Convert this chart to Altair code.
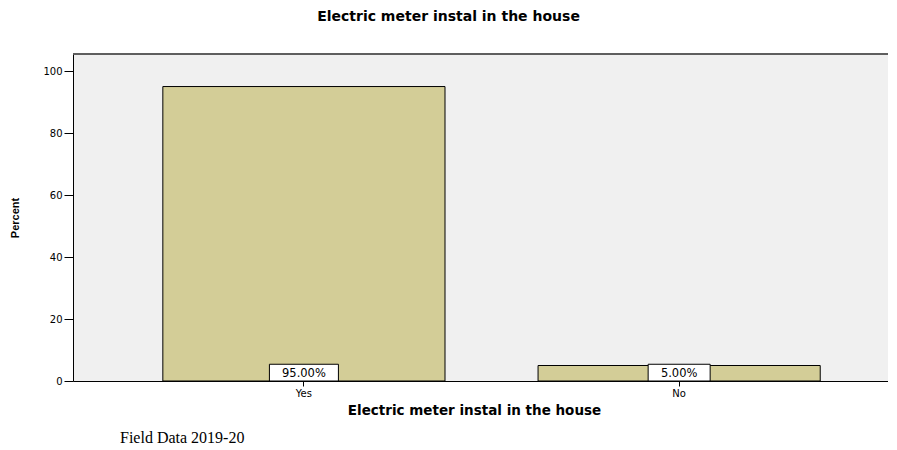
import altair as alt
import pandas as pd

categories = ["Yes", "No"]
percents = [95.0, 5.0]
labels = ["95.00%", "5.00%"]
y_ticks = [0, 20, 40, 60, 80, 100]
footer_text = "Field Data 2019-20"
chart_title = "Electric meter instal in the house"
x_title = "Electric meter instal in the house"
y_title = "Percent"

df = pd.DataFrame({"cat": categories, "pct": percents, "label": labels})
df["boxw"] = df["label"].str.len() * 7 + 27

YMAX = 105.5
xscale = alt.Scale(domain=categories, paddingInner=0.248, paddingOuter=0.21, align=0.57)
yscale = alt.Scale(domain=[0, YMAX], nice=False, zero=True)

base = alt.Chart(df)

bars = base.mark_bar(color="#D3CD97", stroke="#000000", strokeWidth=1).encode(
    x=alt.X("cat:N", scale=xscale, sort=categories,
            axis=alt.Axis(title=x_title, labelAngle=0, labelFontSize=10, labelFont="DejaVu Sans",
                          labelColor="#000", tickSize=5, tickColor="#000", domainColor="#000",
                          labelPadding=2, titleFont="DejaVu Sans", titleFontSize=13.5,
                          titleFontWeight="bold", titleColor="#000", titlePadding=5,
                          titleX=401, titleAlign="center", titleAnchor="start")),
    y=alt.Y("pct:Q", scale=yscale,
            axis=alt.Axis(title=y_title, values=y_ticks, grid=False, labelFontSize=10,
                          labelFont="DejaVu Sans", labelColor="#000", tickSize=9,
                          tickColor="#000", domainColor="#000", labelPadding=2,
                          titleFont="Liberation Sans",
                          titleFontSize=11, titleFontWeight="bold", titleColor="#000",
                          titlePadding=22)),
)

boxes = base.mark_bar(color="#FFFFFF", stroke="#000000", strokeWidth=1).encode(
    x=alt.X("cat:N", scale=xscale, sort=categories),
    y=alt.datum(0),
    y2=alt.datum(5.4),
    size=alt.Size("boxw:Q", scale=None, legend=None),
)

texts = base.mark_text(font="DejaVu Sans", fontSize=11.5, color="#000", baseline="bottom", dy=-2).encode(
    x=alt.X("cat:N", scale=xscale, sort=categories),
    y=alt.datum(0),
    text="label:N",
)

top_rule = alt.Chart(df).mark_rule(color="#555555", strokeWidth=1.5).encode(
    y=alt.datum(YMAX)
)

footer = alt.Chart(pd.DataFrame({"t": [footer_text]})).mark_text(
    font="Liberation Serif", fontSize=16, color="#000", align="left", baseline="alphabetic"
).encode(x=alt.value(47), y=alt.value(389), text="t:N")

chart = alt.layer(bars, boxes, texts, top_rule, footer).properties(
    width=815,
    height=327,
    title=alt.TitleParams(chart_title, font="DejaVu Sans", fontSize=14, fontWeight="bold",
                          color="#000", anchor="middle", dx=-32, offset=29),
    autosize=alt.AutoSizeParams(type="none"),
    padding={"left": 65, "top": 46, "right": 0, "bottom": 66},
).configure(background="#FFFFFF").configure_view(fill="#F0F0F0", stroke=None)

chart.save("out.html", embed_options={"renderer": "svg", "actions": False})
